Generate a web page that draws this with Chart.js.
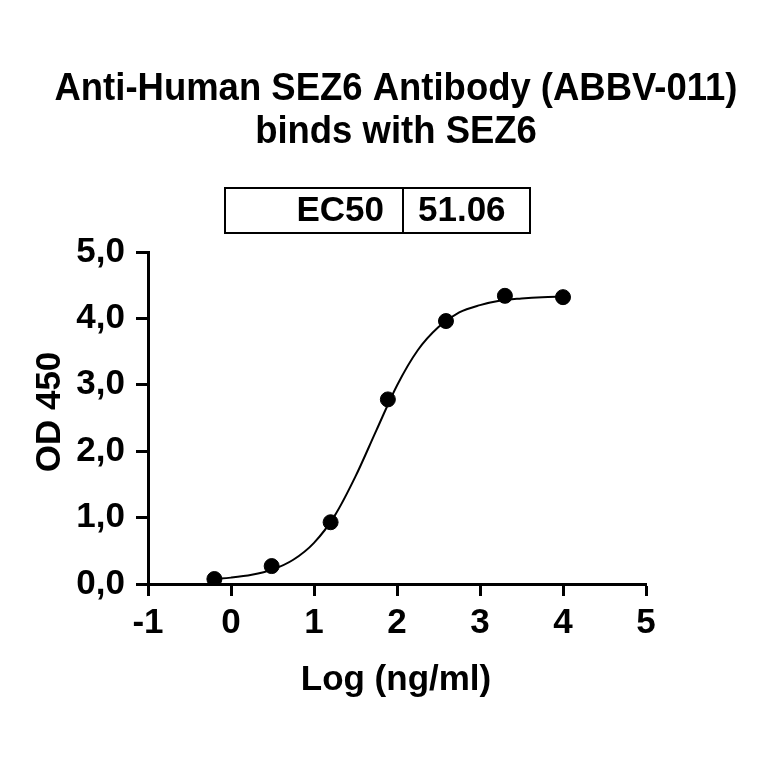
<!DOCTYPE html>
<html>
<head>
<meta charset="utf-8">
<script src="https://cdn.jsdelivr.net/npm/chart.js@4.4.0/dist/chart.umd.min.js"></script>
<style>
  html, body { margin: 0; padding: 0; background: #fff; }
  #wrap { width: 764px; height: 764px; }
</style>
</head>
<body>
<div id="wrap"><canvas id="ec50Chart" width="764" height="764"></canvas></div>
<script>
// measured points: log concentration vs OD 450
const logConc = [-0.2, 0.49, 1.2, 1.89, 2.59, 3.3, 4.0];
const od450 = [0.075, 0.27, 0.93, 2.78, 3.96, 4.34, 4.32];

// fitted curve
const curveX = [-0.2, 0, 0.25, 0.5, 0.75, 1.0, 1.25, 1.5, 1.75, 2.0, 2.25, 2.5, 2.75, 3.0, 3.25, 3.5, 3.75, 4.0];
const curveY = [0.077, 0.096, 0.138, 0.218, 0.365, 0.62, 1.03, 1.62, 2.31, 2.99, 3.52, 3.87, 4.09, 4.20, 4.27, 4.30, 4.32, 4.33];

const xTicks = [-1, 0, 1, 2, 3, 4, 5];
const yTicks = [0, 1, 2, 3, 4, 5];

const titleLines = ['Anti-Human SEZ6 Antibody (ABBV-011)', 'binds with SEZ6'];
const ec50Label = 'EC50';
const ec50Value = '51.06';

const FONT = 'Liberation Sans, Arial, sans-serif';

const textPlugin = {
  id: 'textPlugin',
  afterDraw(chart) {
    const ctx = chart.ctx;
    ctx.save();
    ctx.fillStyle = '#000';
    ctx.textBaseline = 'middle';
    ctx.textAlign = 'center';

    // title, slightly condensed like the original
    ctx.font = 'bold 38px ' + FONT;
    ctx.save();
    ctx.translate(396, 0);
    ctx.scale(0.96, 1);
    ctx.fillText(titleLines[0], 0, 90);
    ctx.fillText(titleLines[1], 0, 133);
    ctx.restore();

    // EC50 box
    ctx.strokeStyle = '#000';
    ctx.lineWidth = 2;
    ctx.strokeRect(225, 188, 305, 45);
    ctx.beginPath();
    ctx.moveTo(403, 188);
    ctx.lineTo(403, 233);
    ctx.stroke();
    ctx.font = 'bold 35px ' + FONT;
    ctx.textAlign = 'right';
    ctx.fillText(ec50Label, 384, 211);
    ctx.textAlign = 'left';
    ctx.fillText(ec50Value, 418, 211);

    // axis titles
    ctx.textAlign = 'center';
    ctx.font = 'bold 35px ' + FONT;
    ctx.fillText('Log (ng/ml)', 396, 680);
    ctx.save();
    ctx.translate(50, 412);
    ctx.rotate(-Math.PI / 2);
    ctx.fillText('OD 450', 0, 0);
    ctx.restore();
    ctx.restore();
  }
};

const ctx = document.getElementById('ec50Chart').getContext('2d');
new Chart(ctx, {
  type: 'scatter',
  data: {
    datasets: [
      {
        label: 'fit',
        data: curveX.map((x, i) => ({ x, y: curveY[i] })),
        showLine: true,
        borderColor: '#000',
        borderWidth: 2,
        pointRadius: 0,
        cubicInterpolationMode: 'monotone',
        fill: false,
      },
      {
        label: 'OD 450',
        data: logConc.map((x, i) => ({ x, y: od450[i] })),
        backgroundColor: '#000',
        borderColor: '#000',
        pointRadius: 7.5,
        pointHoverRadius: 7.5,
      },
    ],
  },
  options: {
    responsive: false,
    animation: false,
    events: [],
    layout: { padding: { left: 0, top: 252, right: 118, bottom: 0 } },
    plugins: {
      legend: { display: false },
      tooltip: { enabled: false },
      title: { display: false },
    },
    scales: {
      x: {
        type: 'linear',
        min: -1,
        max: 5,
        afterBuildTicks: (scale) => { scale.ticks = xTicks.map(v => ({ value: v })); },
        afterFit: (scale) => { scale.height = 180; },
        grid: {
          drawOnChartArea: false,
          drawTicks: true,
          tickLength: 12,
          tickWidth: 3,
          tickColor: '#000',
        },
        border: { color: '#000', width: 3 },
        ticks: {
          color: '#000',
          font: { family: FONT, size: 35, weight: 'bold' },
          padding: 6,
          maxRotation: 0,
        },
      },
      y: {
        type: 'linear',
        min: 0,
        max: 5,
        afterBuildTicks: (scale) => { scale.ticks = yTicks.map(v => ({ value: v })); },
        afterFit: (scale) => { scale.width = 148; },
        grid: {
          drawOnChartArea: false,
          drawTicks: true,
          tickLength: 12,
          tickWidth: 3,
          tickColor: '#000',
        },
        border: { color: '#000', width: 3 },
        ticks: {
          color: '#000',
          font: { family: FONT, size: 35, weight: 'bold' },
          padding: 11,
          callback: (v) => v.toFixed(1).replace('.', ','),
        },
      },
    },
  },
  plugins: [textPlugin],
});
</script>
</body>
</html>
